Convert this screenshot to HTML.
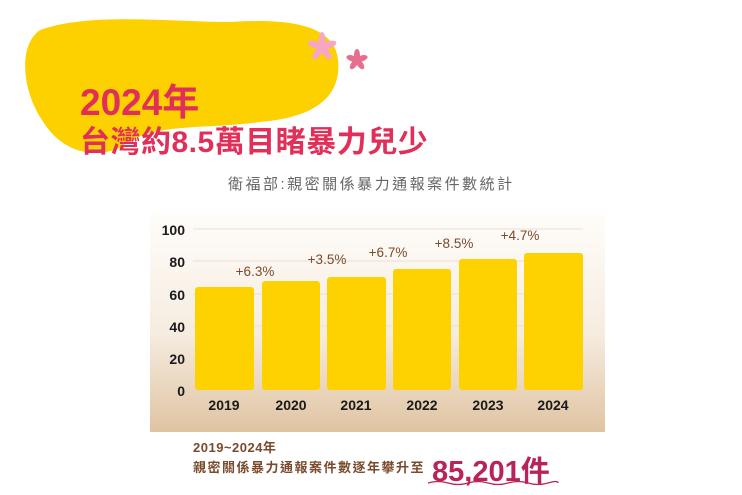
<!DOCTYPE html>
<html><head><meta charset="utf-8"><style>
body{margin:0;width:742px;height:495px;background:#fff;overflow:hidden;position:relative;font-family:"Liberation Sans","Noto Sans CJK TC",sans-serif}
.a{position:absolute;white-space:nowrap}
</style></head><body>
<svg class="a" style="left:0;top:0" width="742" height="495">
<defs><linearGradient id="g" x1="0" y1="0" x2="0" y2="1"><stop offset="0" stop-color="#fffdfa"/><stop offset="0.55" stop-color="#f6ece0"/><stop offset="1" stop-color="#dfc4a2"/></linearGradient></defs>
<path d="M40 30 C90 12 170 22 230 22 C290 18 335 25 338 60 C342 100 310 118 260 122 C200 130 150 122 120 148 C90 160 60 150 42 120 C22 90 18 45 40 30Z" fill="#fdd000"/>
<g fill="#f7a6c4" transform="translate(322,47)"><ellipse cy="-7" rx="3.5" ry="8"/><ellipse cy="-7" rx="3.5" ry="8" transform="rotate(72)"/><ellipse cy="-7" rx="3.5" ry="8" transform="rotate(144)"/><ellipse cy="-7" rx="3.5" ry="8" transform="rotate(216)"/><ellipse cy="-7" rx="3.5" ry="8" transform="rotate(288)"/></g>
<g fill="#e86e8e" transform="translate(357,60)"><ellipse cy="-5" rx="3" ry="6"/><ellipse cy="-5" rx="3" ry="6" transform="rotate(72)"/><ellipse cy="-5" rx="3" ry="6" transform="rotate(144)"/><ellipse cy="-5" rx="3" ry="6" transform="rotate(216)"/><ellipse cy="-5" rx="3" ry="6" transform="rotate(288)"/></g>
<rect x="150" y="213" width="455" height="219" fill="url(#g)"/>
<g stroke="#e8e0d8" stroke-width="1"><line x1="193" x2="583" y1="229" y2="229"/><line x1="193" x2="583" y1="261" y2="261"/><line x1="193" x2="583" y1="294" y2="294"/><line x1="193" x2="583" y1="326" y2="326"/><line x1="193" x2="583" y1="358" y2="358"/></g>
<g fill="#fed200">
<rect x="195" y="287" width="59" height="103" rx="3"/>
<rect x="262" y="281" width="58" height="109" rx="3"/>
<rect x="327" y="277" width="59" height="113" rx="3"/>
<rect x="393" y="269" width="58" height="121" rx="3"/>
<rect x="459" y="259" width="58" height="131" rx="3"/>
<rect x="524" y="253" width="59" height="137" rx="3"/>
</g>
<g font-family="Liberation Sans,sans-serif" font-weight="bold" font-size="14" fill="#1a1a1a" text-anchor="end">
<text x="185" y="235">100</text><text x="185" y="267">80</text><text x="185" y="300">60</text><text x="185" y="332">40</text><text x="185" y="364">20</text><text x="185" y="396">0</text></g>
<g font-family="Liberation Sans,sans-serif" font-weight="bold" font-size="14" fill="#1a1a1a" text-anchor="middle">
<text x="224" y="410">2019</text><text x="291" y="410">2020</text><text x="356" y="410">2021</text><text x="422" y="410">2022</text><text x="488" y="410">2023</text><text x="553" y="410">2024</text></g>
<g font-family="Liberation Sans,sans-serif" font-size="13.5" fill="#7a4a2c" text-anchor="middle">
<text x="255" y="276">+6.3%</text><text x="327" y="264">+3.5%</text><text x="388" y="257">+6.7%</text><text x="454" y="248">+8.5%</text><text x="520" y="240">+4.7%</text></g>
<path d="M428 483 q10 -3 20 0 t20 0 t20 0 t20 0 t20 0 t20 0 t10 0" stroke="#b8235a" stroke-width="1.3" fill="none"/>
</svg>
<div class="a" style="left:80px;top:72px;font-size:37px;font-weight:bold;color:#e0305a">2024年</div>
<div class="a" style="left:80px;top:117px;font-size:30px;font-weight:bold;color:#e0305a;letter-spacing:0.5px">台灣約8.5萬目睹暴力兒少</div>
<div class="a" style="left:228px;top:173px;font-size:15px;color:#666;letter-spacing:2.5px">衛福部:親密關係暴力通報案件數統計</div>
<div class="a" style="left:193px;top:437px;font-size:13px;font-weight:bold;color:#7a4a2c;letter-spacing:0.5px">2019~2024年</div>
<div class="a" style="left:193px;top:457px;font-size:13px;font-weight:bold;color:#7a4a2c;letter-spacing:1.5px">親密關係暴力通報案件數逐年攀升至</div>
<div class="a" style="left:432px;top:448px;font-size:29px;font-weight:bold;color:#b8235a">85,201件</div>
</body></html>
